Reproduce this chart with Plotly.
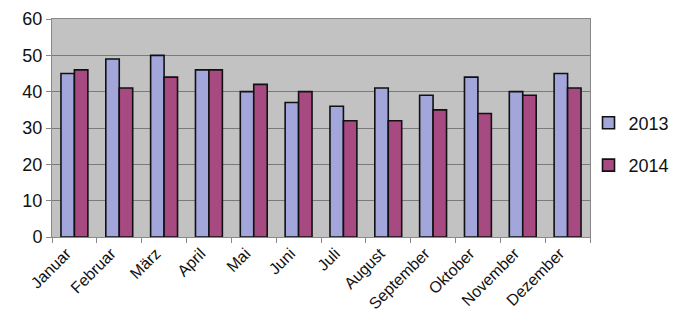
import plotly.graph_objects as go

months = ["Januar", "Februar", "März", "April", "Mai", "Juni", "Juli",
          "August", "September", "Oktober", "November", "Dezember"]
v2013 = [45, 49, 50, 46, 40, 37, 36, 41, 39, 44, 40, 45]
v2014 = [46, 41, 44, 46, 42, 40, 32, 32, 35, 34, 39, 41]
y_ticks = [0, 10, 20, 30, 40, 50, 60]

fig = go.Figure()
fig.add_trace(go.Bar(x=months, y=v2013, name="2013", legendgroup="a",
                     marker=dict(color="#A2A6DA", line=dict(color="#111111", width=1.6))))
fig.add_trace(go.Bar(x=months, y=v2014, name="2014", legendgroup="b",
                     marker=dict(color="#A84A82", line=dict(color="#111111", width=1.6))))

fig.update_layout(
    width=678, height=331,
    margin=dict(l=52, r=88, t=19, b=94, autoexpand=False),
    paper_bgcolor="white",
    plot_bgcolor="#C2C2C2",
    barmode="group",
    bargap=0.4,
    bargroupgap=0,
    font=dict(family="Liberation Sans, Arial, sans-serif", color="#111111"),
    legend=dict(xref="container", yref="container", x=0.868, y=0.565,
                yanchor="middle", xanchor="left",
                font=dict(size=18), tracegroupgap=16, itemwidth=30,
                bgcolor="rgba(0,0,0,0)"),
    showlegend=True,
)
fig.update_xaxes(
    tickangle=-45, tickfont=dict(size=16),
    showline=True, linecolor="#888888", linewidth=1,
    ticks="outside", ticklen=5, tickcolor="#888888",
    tickson="boundaries", showgrid=False,
    ticklabelshift=-8,
    mirror=True,
)
fig.update_yaxes(
    range=[0, 60], tickvals=y_ticks, tickfont=dict(size=18),
    showline=True, linecolor="#888888", linewidth=1,
    ticks="outside", ticklen=5, tickcolor="#888888",
    gridcolor="#7A7A7A", gridwidth=1, zeroline=False,
    mirror=True,
)

fig.write_html("out.html")
